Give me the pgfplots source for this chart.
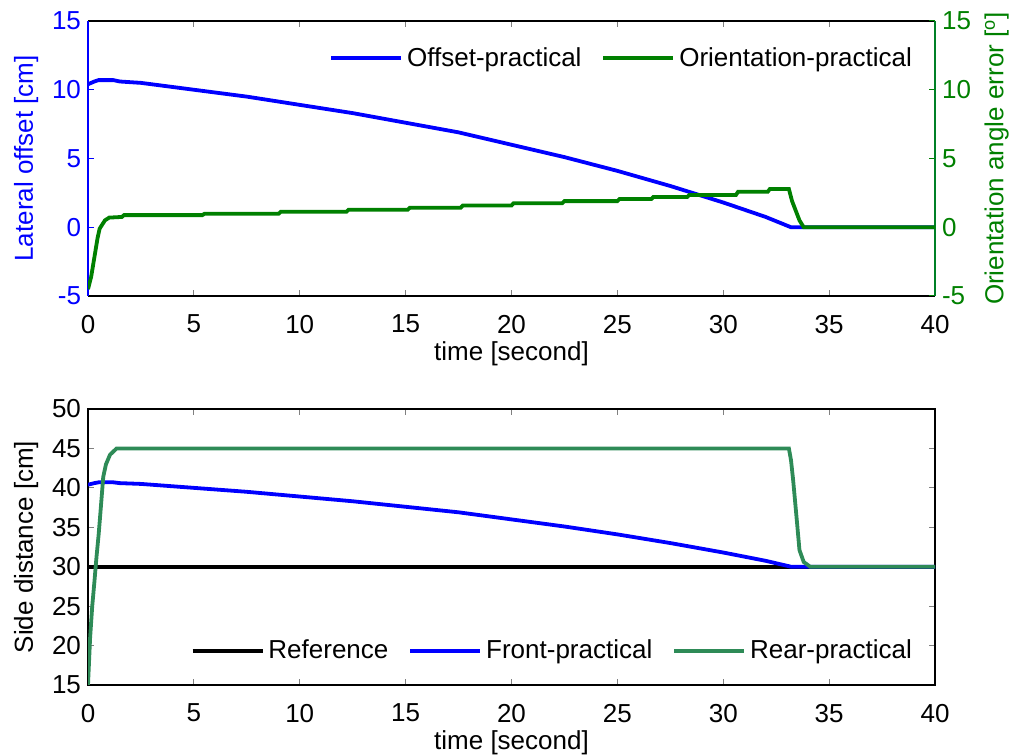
\documentclass[border=0pt]{standalone}
\usepackage{fontspec}
\setmainfont{Liberation Sans}
\usepackage{pgfplots}
\pgfplotsset{compat=1.18}

\definecolor{mblue}{RGB}{0,0,255}
\definecolor{mgreen}{RGB}{0,128,0}
\definecolor{rgreen}{RGB}{46,139,87}

\newcommand{\lbl}{\fontsize{13bp}{15bp}\selectfont}

\pgfplotsset{
  every axis/.append style={
    scale only axis,
    width=423.5bp,
    xmin=0, xmax=40,
    xtick={0,5,...,40},
    tick align=inside,
    major tick length=3bp,
    tick style={line width=0.5bp},
    axis line style={line width=0.6bp},
    tick label style={font=\lbl},
    label style={font=\lbl},
    /pgf/number format/assume math mode=true,
    xticklabel style={yshift=-6bp},
    xlabel style={yshift=2.5bp},
    legend style={draw=none, fill=none, font=\lbl,
      legend columns=-1,
      /tikz/every even column/.append style={column sep=8bp}},
    legend image code/.code={\draw[#1] (0bp,0bp) -- (35bp,0bp);},
  },
}

\begin{document}
\begin{tikzpicture}
\path[use as bounding box] (0,0) rectangle (506bp,378bp);

% ---------- upper panel: lateral offset (left) ----------
\begin{axis}[
  at={(44bp,230bp)}, anchor=south west,
  height=137.5bp,
  ymin=-5, ymax=15, ytick={-5,0,...,15},
  axis x line*=box, axis y line*=left,
  y axis line style={mblue},
  ytick style={mblue},
  yticklabel style={mblue},
  ylabel={Lateral offset [cm]},
  ylabel style={mblue},
  xlabel={time [second]},
]
\addplot[mblue, line width=1.9bp] coordinates {
  (0,10.4) (0.3,10.6) (0.5,10.7) (1.2,10.7) (1.5,10.6) (2.5,10.5)
  (5,10.0) (7.5,9.5) (10,8.9) (12.5,8.3) (15,7.6) (17.5,6.9)
  (20,6.0) (22.5,5.1) (25,4.1) (27.5,3.0) (30,1.8) (32,0.75)
  (33.2,0.0) (40,0.0)
};
\end{axis}

% ---------- upper panel: orientation angle error (right) ----------
\begin{axis}[
  at={(44bp,230bp)}, anchor=south west,
  height=137.5bp,
  ymin=-5, ymax=15, ytick={-5,0,...,15},
  axis x line=none, axis y line*=right,
  y axis line style={mgreen!70!teal},
  ytick style={mgreen},
  yticklabel style={mgreen},
  ylabel={Orientation angle error [\textsuperscript{o}]},
  ylabel style={mgreen},
  legend style={at={(0.985,0.865)}, anchor=east},
]
\addlegendimage{mblue, line width=1.9bp}
\addlegendentry{Offset-practical}
\addplot[mgreen, line width=1.9bp] coordinates {
  (0,-4.5) (0.15,-3.6) (0.3,-2.2) (0.45,-0.8) (0.55,-0.1) (0.8,0.5)
  (1.0,0.7) (1.6,0.75) (1.7,0.88) (5.4,0.88) (5.5,0.98) (9.0,0.98)
  (9.1,1.12) (12.2,1.12) (12.3,1.27) (15.1,1.27) (15.2,1.42)
  (17.6,1.42) (17.7,1.58) (20.0,1.58) (20.1,1.75) (22.4,1.75)
  (22.5,1.9) (25.0,1.9) (25.1,2.05) (26.6,2.05) (26.7,2.2)
  (28.3,2.2) (28.4,2.35) (30.6,2.35) (30.7,2.58) (32.1,2.58)
  (32.2,2.78) (33.1,2.78) (33.25,1.9) (33.45,1.1) (33.6,0.5)
  (33.8,0.0) (40,0.0)
};
\addlegendentry{Orientation-practical}
\end{axis}

% ---------- lower panel: side distance ----------
\begin{axis}[
  at={(44bp,35.5bp)}, anchor=south west,
  height=138bp,
  ymin=15, ymax=50, ytick={15,20,...,50},
  ylabel={Side distance [cm]},
  xlabel={time [second]},
  legend style={at={(0.985,0.123)}, anchor=east},
]
\addplot[black, line width=1.9bp] coordinates {(0,30) (40,30)};
\addlegendentry{Reference}
\addplot[mblue, line width=1.9bp] coordinates {
  (0,40.4) (0.3,40.6) (0.5,40.7) (1.2,40.7) (1.5,40.6) (2.5,40.5)
  (5,40.0) (7.5,39.5) (10,38.9) (12.5,38.3) (15,37.6) (17.5,36.9)
  (20,36.0) (22.5,35.1) (25,34.1) (27.5,33.0) (30,31.8) (32,30.75)
  (33.2,30.0) (40,30.0)
};
\addlegendentry{Front-practical}
\addplot[rgreen, line width=1.9bp] coordinates {
  (0,15) (0.05,18) (0.1,21) (0.2,25) (0.3,28) (0.4,31.2) (0.5,34)
  (0.57,36.3) (0.65,39) (0.72,41.4) (0.85,43) (1.04,44.2) (1.35,45)
  (33.1,45) (33.2,43.5) (33.3,41) (33.47,36) (33.6,32.1) (33.8,30.6)
  (34.1,30) (40,30)
};
\addlegendentry{Rear-practical}
\end{axis}
\end{tikzpicture}
\end{document}
